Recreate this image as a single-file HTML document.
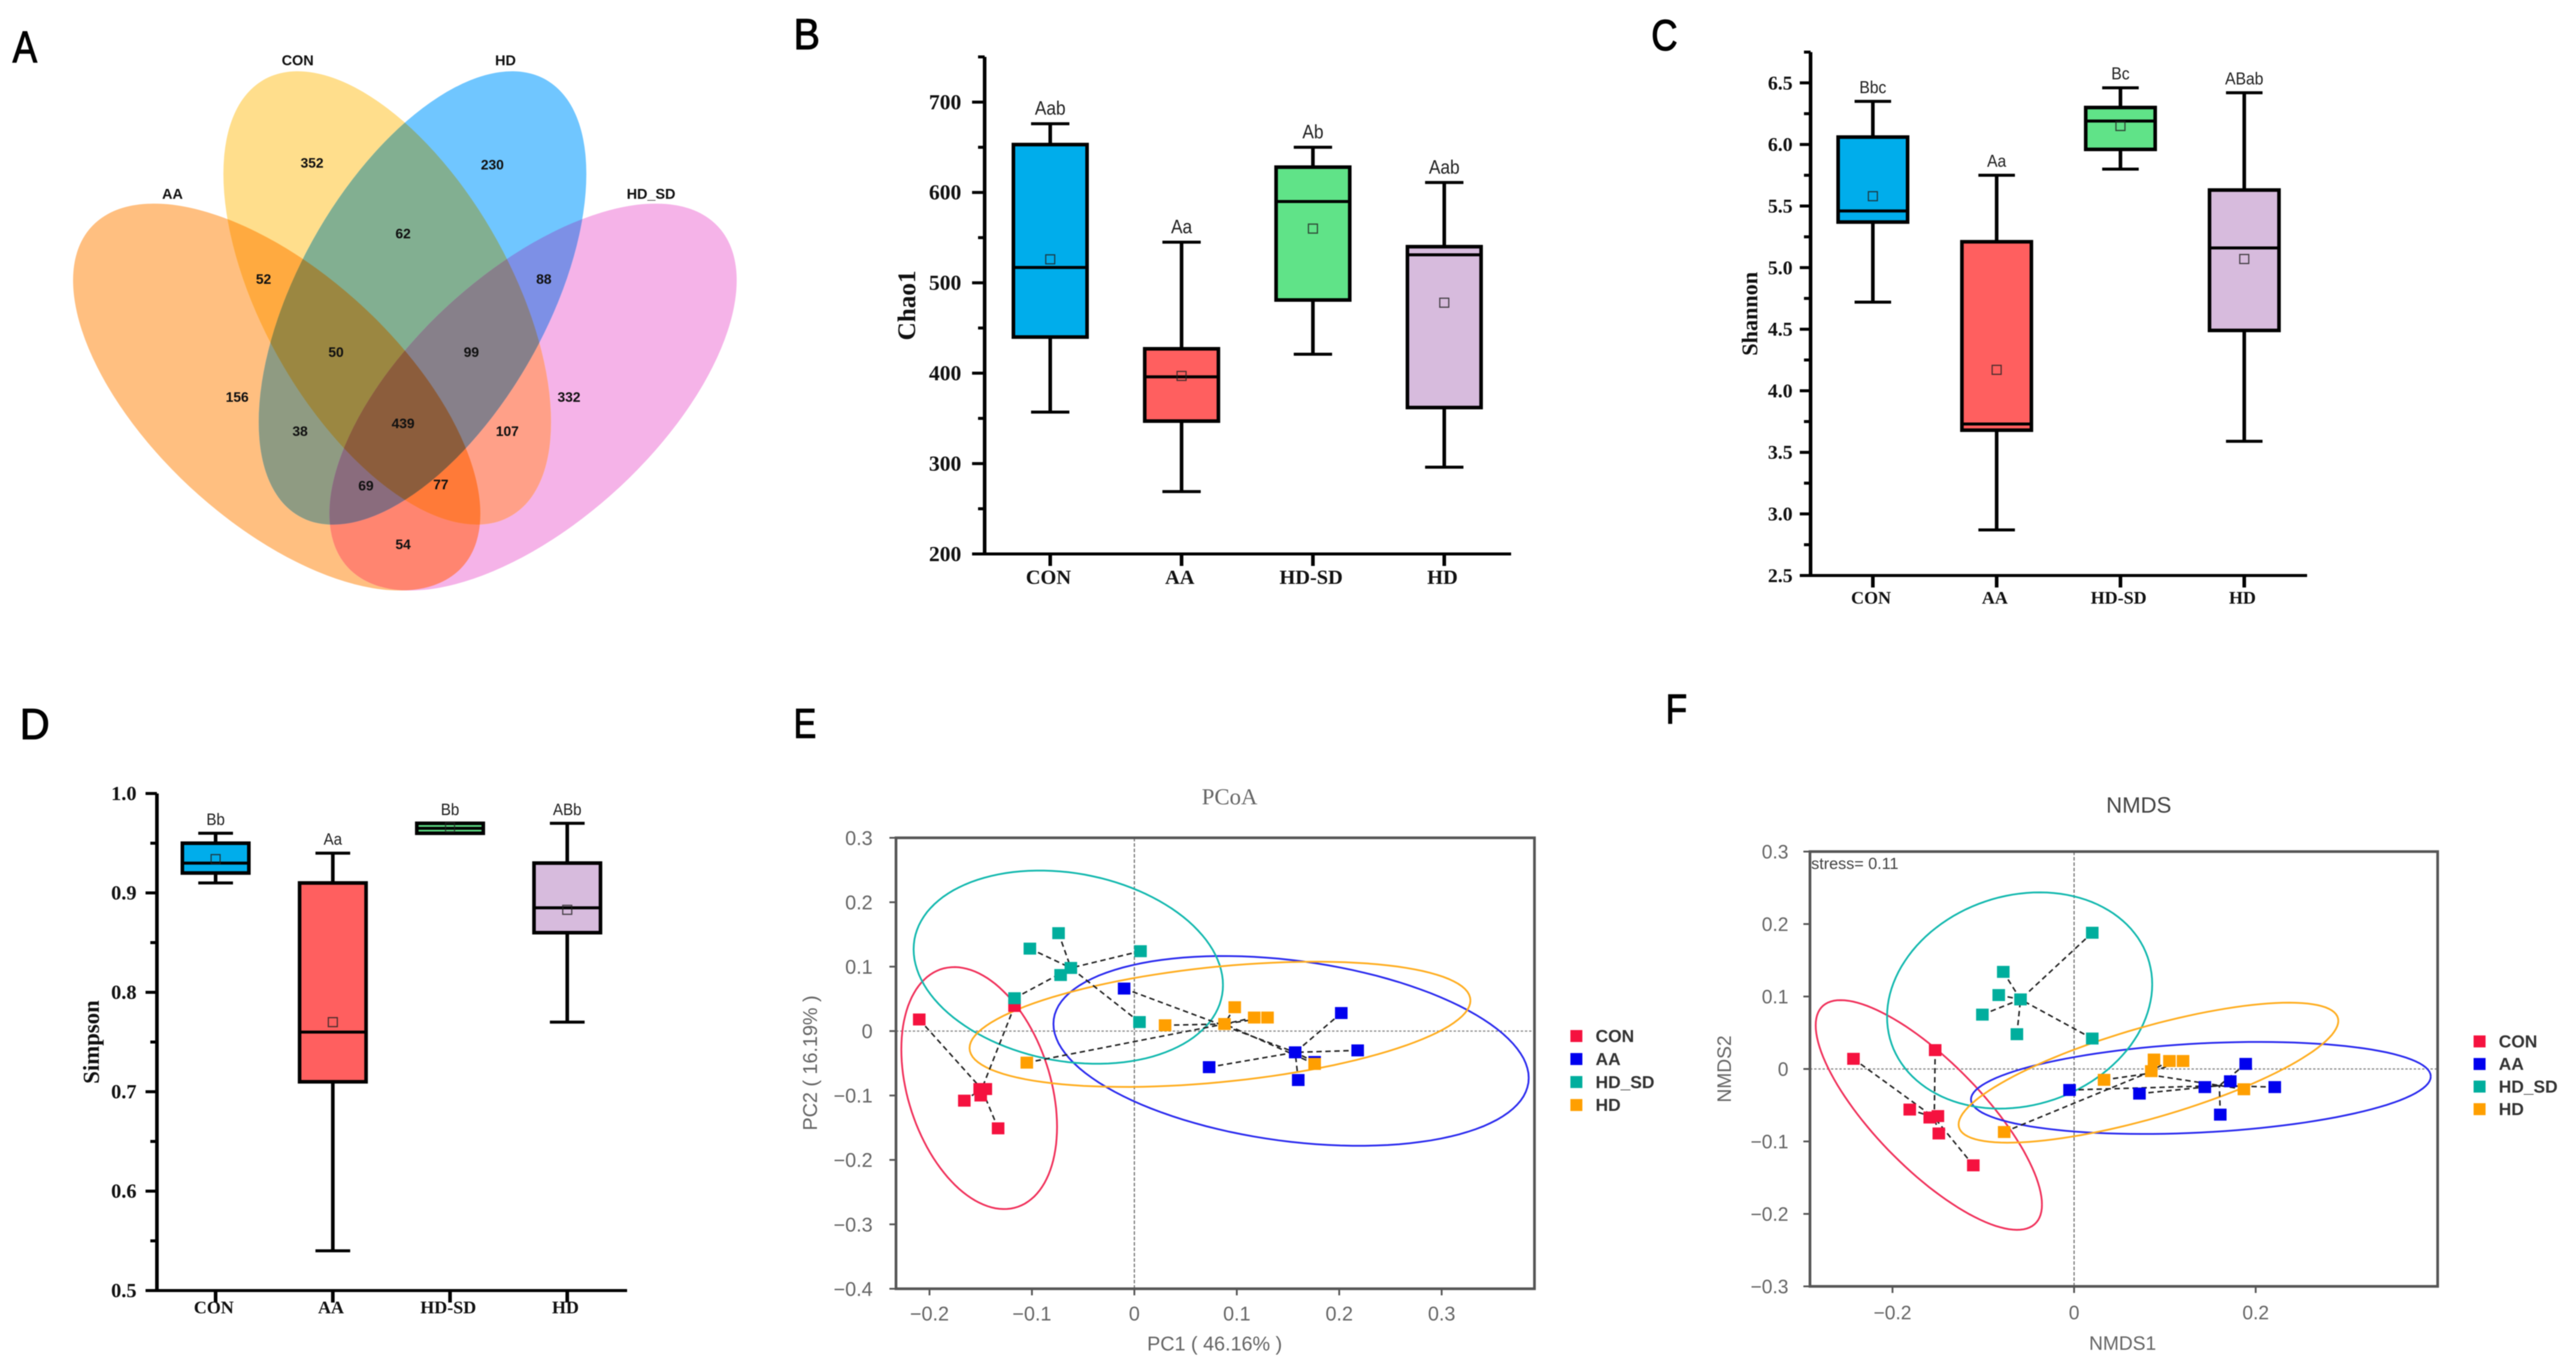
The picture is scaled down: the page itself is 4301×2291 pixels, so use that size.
<!DOCTYPE html>
<html lang="en">
<head>
<meta charset="utf-8">
<title>Microbial diversity figure: Venn, alpha diversity, PCoA and NMDS</title>
<style>
html,body{margin:0;padding:0;background:#fff;width:4301px;height:2291px;overflow:hidden}
svg{display:block;filter:blur(0.9px)}
text{font-family:"Liberation Sans",sans-serif}
.serif{font-family:"Liberation Serif",serif;font-weight:bold}
</style>
</head>
<body>
<svg id="fig" xmlns="http://www.w3.org/2000/svg" width="4301" height="2291" viewBox="0 0 4301 2291">
  <rect width="4301" height="2291" fill="#fff"/>

  <defs>
    <clipPath id="clip-aa"><circle r="1" transform="matrix(340 194.8 0 257.7 462 663)"/></clipPath>
    <clipPath id="clip-con"><circle r="1" transform="matrix(273.5 207 0 316.9 646.5 497.5)"/></clipPath>
    <clipPath id="clip-hd"><circle r="1" transform="matrix(273.5 -207 0 316.9 705.5 497.5)"/></clipPath>
    <clipPath id="clip-sd"><circle r="1" transform="matrix(340 -194.8 0 257.7 890 663)"/></clipPath>
  </defs>

  <g fill="#000" stroke="#000" stroke-width="1.6">
    <text x="21" y="104" font-size="74" textLength="41" lengthAdjust="spacingAndGlyphs">A</text>
    <text x="1325" y="82" font-size="72" textLength="44" lengthAdjust="spacingAndGlyphs">B</text>
    <text x="2757" y="84" font-size="72" textLength="44" lengthAdjust="spacingAndGlyphs">C</text>
    <text x="33" y="1234" font-size="72" textLength="50" lengthAdjust="spacingAndGlyphs">D</text>
    <text x="1325" y="1232" font-size="70" textLength="38" lengthAdjust="spacingAndGlyphs">E</text>
    <text x="2781" y="1208" font-size="70" textLength="36" lengthAdjust="spacingAndGlyphs">F</text>
  </g>

  <g>
    <g id="venn-regions"></g>
    <g font-size="24" font-weight="bold" text-anchor="middle" fill="#111">
      <text x="497" y="109">CON</text>
      <text x="844" y="109">HD</text>
      <text x="288" y="332">AA</text>
      <text x="1087" y="332">HD_SD</text>
    </g>
    <g font-size="23" font-weight="bold" text-anchor="middle" fill="#111">
      <text x="521" y="280">352</text>
      <text x="822" y="283">230</text>
      <text x="673" y="398">62</text>
      <text x="440" y="474">52</text>
      <text x="908" y="474">88</text>
      <text x="561" y="596">50</text>
      <text x="787" y="596">99</text>
      <text x="396" y="671">156</text>
      <text x="950" y="671">332</text>
      <text x="501" y="728">38</text>
      <text x="673" y="715">439</text>
      <text x="847" y="728">107</text>
      <text x="611" y="819">69</text>
      <text x="736" y="817">77</text>
      <text x="673" y="917">54</text>
    </g>
  </g>
</svg>

<script>
/* ---------- box-plot data ---------- */
const boxCategories = ['CON', 'AA', 'HD-SD', 'HD'];

const chaoWhiskerHigh = [676, 545, 650, 611];
const chaoQ3 = [653, 427, 628, 540];
const chaoMedian = [517, 396, 590, 531];
const chaoQ1 = [440, 347, 481, 362];
const chaoWhiskerLow = [357, 269, 421, 296];
const chaoMean = [526, 397, 560, 478];
const chaoLetters = ['Aab', 'Aa', 'Ab', 'Aab'];
const chaoTicks = [200, 300, 400, 500, 600, 700];
const chaoTickLabels = ['200', '300', '400', '500', '600', '700'];
const chaoMinorTicks = [250, 350, 450, 550, 650, 750];

const shannonWhiskerHigh = [6.35, 5.75, 6.46, 6.42];
const shannonQ3 = [6.06, 5.21, 6.30, 5.63];
const shannonMedian = [5.46, 3.73, 6.19, 5.16];
const shannonQ1 = [5.37, 3.68, 5.96, 4.49];
const shannonWhiskerLow = [4.72, 2.87, 5.80, 3.59];
const shannonMean = [5.58, 4.17, 6.15, 5.07];
const shannonLetters = ['Bbc', 'Aa', 'Bc', 'ABab'];
const shannonTicks = [2.5, 3, 3.5, 4, 4.5, 5, 5.5, 6, 6.5];
const shannonTickLabels = ['2.5', '3.0', '3.5', '4.0', '4.5', '5.0', '5.5', '6.0', '6.5'];
const shannonMinorTicks = [2.75, 3.25, 3.75, 4.25, 4.75, 5.25, 5.75, 6.25, 6.75];

const simpsonWhiskerHigh = [0.96, 0.94, 0.97, 0.97];
const simpsonQ3 = [0.95, 0.91, 0.97, 0.93];
const simpsonMedian = [0.93, 0.76, 0.965, 0.885];
const simpsonQ1 = [0.92, 0.71, 0.96, 0.86];
const simpsonWhiskerLow = [0.91, 0.54, 0.96, 0.77];
const simpsonMean = [0.934, 0.77, 0.966, 0.883];
const simpsonLetters = ['Bb', 'Aa', 'Bb', 'ABb'];
const simpsonTicks = [0.5, 0.6, 0.7, 0.8, 0.9, 1.0];
const simpsonTickLabels = ['0.5', '0.6', '0.7', '0.8', '0.9', '1.0'];
const simpsonMinorTicks = [0.55, 0.65, 0.75, 0.85, 0.95];

/* ---------- ordination data ---------- */
const scatterGroups = ['CON', 'AA', 'HD_SD', 'HD'];

const pcoaConX = [-0.210, -0.117, -0.166, -0.150, -0.151, -0.145, -0.133];
const pcoaConY = [0.018, 0.039, -0.108, -0.100, -0.090, -0.090, -0.151];
const pcoaAaX = [-0.010, 0.202, 0.218, 0.157, 0.073, 0.160, 0.176];
const pcoaAaY = [0.066, 0.028, -0.030, -0.033, -0.056, -0.076, -0.048];
const pcoaSdX = [-0.074, -0.102, -0.062, -0.072, 0.006, -0.117, 0.005];
const pcoaSdY = [0.152, 0.128, 0.098, 0.087, 0.124, 0.051, 0.014];
const pcoaHdX = [0.098, 0.117, 0.130, 0.088, 0.030, -0.105, 0.176];
const pcoaHdY = [0.037, 0.021, 0.021, 0.011, 0.009, -0.049, -0.051];
const pcoaCentroidX = [-0.149, 0.157, -0.062, 0.088];
const pcoaCentroidY = [-0.090, -0.033, 0.098, 0.011];
const pcoaEllipseCx = [-0.1515, 0.153, -0.0645, 0.0836];
const pcoaEllipseCy = [-0.0885, -0.0308, 0.0992, 0.0105];
const pcoaEllipseRx = [0.076, 0.232, 0.151, 0.2445];
const pcoaEllipseRy = [0.1878, 0.1473, 0.150, 0.0972];
const pcoaEllipseCorr = [-0.32, -0.285, -0.185, 0.38];
const pcoaXTicks = [-0.2, -0.1, 0, 0.1, 0.2, 0.3];
const pcoaXTickLabels = ['\u22120.2', '\u22120.1', '0', '0.1', '0.2', '0.3'];
const pcoaYTicks = [-0.4, -0.3, -0.2, -0.1, 0, 0.1, 0.2, 0.3];
const pcoaYTickLabels = ['\u22120.4', '\u22120.3', '\u22120.2', '\u22120.1', '0', '0.1', '0.2', '0.3'];

const nmdsConX = [-0.243, -0.153, -0.181, -0.159, -0.150, -0.149, -0.111];
const nmdsConY = [0.014, 0.026, -0.056, -0.067, -0.065, -0.089, -0.133];
const nmdsAaX = [-0.005, 0.072, 0.144, 0.172, 0.189, 0.221, 0.161];
const nmdsAaY = [-0.029, -0.034, -0.025, -0.017, 0.007, -0.025, -0.063];
const nmdsSdX = [0.020, -0.078, -0.083, -0.059, -0.101, -0.063, 0.020];
const nmdsSdY = [0.188, 0.134, 0.102, 0.096, 0.075, 0.048, 0.042];
const nmdsHdX = [0.088, 0.105, 0.120, 0.085, 0.033, -0.077, 0.187];
const nmdsHdY = [0.013, 0.011, 0.011, -0.003, -0.015, -0.087, -0.028];
const nmdsCentroidX = [-0.154, 0.160, -0.059, 0.078];
const nmdsCentroidY = [-0.067, -0.023, 0.096, -0.007];
const nmdsEllipseCx = [-0.160, 0.1396, -0.060, 0.0819];
const nmdsEllipseCy = [-0.0635, -0.0262, 0.0945, -0.0051];
const nmdsEllipseRx = [0.1246, 0.2532, 0.146, 0.2091];
const nmdsEllipseRy = [0.1585, 0.0635, 0.1492, 0.0966];
const nmdsEllipseCorr = [-0.78, 0.25, 0.15, 0.74];
const nmdsXTicks = [-0.2, 0, 0.2];
const nmdsXTickLabels = ['\u22120.2', '0', '0.2'];
const nmdsYTicks = [-0.3, -0.2, -0.1, 0, 0.1, 0.2, 0.3];
const nmdsYTickLabels = ['\u22120.3', '\u22120.2', '\u22120.1', '0', '0.1', '0.2', '0.3'];

/* ---------- helpers ---------- */
const NS = 'http://www.w3.org/2000/svg';
const root = document.getElementById('fig');
const boxFills = ['#00ADEB', '#FF5F5F', '#60E388', '#D7BBDD'];
const groupColors = ['#F5123F', '#0000EE', '#00AE9D', '#FF9F00'];
const ringColors = ['#F0305A', '#2A2AEE', '#12B8AE', '#FFAD1F'];

function svgEl(tag, attrs, parent) {
  const el = document.createElementNS(NS, tag);
  for (const k in attrs) el.setAttribute(k, attrs[k]);
  parent.appendChild(el);
  return el;
}
function svgText(str, attrs, parent) {
  const el = svgEl('text', attrs, parent);
  el.textContent = str;
  return el;
}
function slug(s) {
  return String(s).toLowerCase().replace(/[^a-z0-9]+/g, '-');
}
function linear(d0, d1, r0, r1) {
  return function (v) { return r0 + (v - d0) / (d1 - d0) * (r1 - r0); };
}

/* ---------- venn regions: each intersection painted in its own colour, smallest sets first ---------- */
const vennShapes = {
  aa: 'matrix(340 194.8 0 257.7 462 663)',
  con: 'matrix(273.5 207 0 316.9 646.5 497.5)',
  hd: 'matrix(273.5 -207 0 316.9 705.5 497.5)',
  sd: 'matrix(340 -194.8 0 257.7 890 663)'
};
const vennRegionSets = [
  ['aa'], ['sd'], ['con'], ['hd'],
  ['aa', 'con'], ['aa', 'hd'], ['aa', 'sd'], ['con', 'hd'], ['con', 'sd'], ['hd', 'sd'],
  ['aa', 'con', 'hd'], ['aa', 'con', 'sd'], ['aa', 'hd', 'sd'], ['con', 'hd', 'sd'],
  ['aa', 'con', 'hd', 'sd']
];
const vennRegionFills = [
  '#FFBF80', '#F5B3E8', '#FFDE8C', '#70C6FF',
  '#FFAA40', '#8F9B82', '#FF8570', '#82AF91', '#FFA088', '#7D90E6',
  '#9B8741', '#FF7A38', '#8A6C7D', '#87808A',
  '#8C5D3C'
];
vennRegionSets.forEach(function (sets, i) {
  let host = document.getElementById('venn-regions');
  sets.slice(1).forEach(function (s) {
    host = svgEl('g', {'clip-path': 'url(#clip-' + s + ')'}, host);
  });
  const region = svgEl('circle', {r: 1, transform: vennShapes[sets[0]], fill: vennRegionFills[i]}, host);
  
  
});

/* ---------- box plot ---------- */
function drawBoxPanel(c) {
  const g = svgEl('g', {}, root);
  
  
  const y = linear(c.yMin, c.yMax, c.bottom, c.top);
  const x = function (i) { return c.x0 + i * c.step; };

  const yAxis = svgEl('line', {x1: c.axisX, x2: c.axisX, y1: c.top, y2: c.bottom + 2, stroke: '#000', 'stroke-width': 6}, g);
  
  
  const xAxis = svgEl('line', {x1: c.xLeft, x2: c.xRight, y1: c.bottom, y2: c.bottom, stroke: '#000', 'stroke-width': 5}, g);
  
  

  c.ticks.forEach(function (t, i) {
    const tk = svgEl('line', {x1: c.xLeft, x2: c.axisX, y1: y(t), y2: y(t), stroke: '#000', 'stroke-width': 5}, g);
    
    
    const lb = svgText(c.tickLabels[i], {x: c.tickRight, y: y(t) + c.tickSize * 0.33, 'font-size': c.tickSize, 'text-anchor': 'end', fill: '#111', class: 'serif'}, g);
    
    
  });
  c.minorTicks.forEach(function (t) {
    const tk = svgEl('line', {x1: c.axisX - 11, x2: c.axisX, y1: y(t), y2: y(t), stroke: '#000', 'stroke-width': 5}, g);
    
    
  });

  const title = svgText(c.title, {x: 0, y: 0, transform: 'translate(' + c.titleX + ' ' + c.titleY + ') rotate(-90)', 'font-size': c.titleSize, 'text-anchor': 'middle', fill: '#111', class: 'serif'}, g);
  
  

  boxCategories.forEach(function (cat, i) {
    const cx = x(i);
    const key = c.name + '-' + slug(cat);
    const tk = svgEl('line', {x1: cx, x2: cx, y1: c.bottom, y2: c.bottom + 20, stroke: '#000', 'stroke-width': 6}, g);
    
    
    const lb = svgText(cat, {x: cx - 3, y: c.catY, 'font-size': c.catSize, 'text-anchor': 'middle', fill: '#111', class: 'serif'}, g);
    
    

    const whisker = svgEl('line', {x1: cx, x2: cx, y1: y(c.high[i]), y2: y(c.low[i]), stroke: '#000', 'stroke-width': 6}, g);
    
    
    const capHi = svgEl('line', {x1: cx - c.capW / 2, x2: cx + c.capW / 2, y1: y(c.high[i]), y2: y(c.high[i]), stroke: '#000', 'stroke-width': 5}, g);
    
    
    const capLo = svgEl('line', {x1: cx - c.capW / 2, x2: cx + c.capW / 2, y1: y(c.low[i]), y2: y(c.low[i]), stroke: '#000', 'stroke-width': 5}, g);
    
    
    const box = svgEl('rect', {x: cx - c.boxW / 2, y: y(c.q3[i]), width: c.boxW, height: y(c.q1[i]) - y(c.q3[i]), fill: boxFills[i], stroke: '#000', 'stroke-width': 6}, g);
    
    
    const med = svgEl('line', {x1: cx - c.boxW / 2, x2: cx + c.boxW / 2, y1: y(c.median[i]), y2: y(c.median[i]), stroke: '#000', 'stroke-width': 5}, g);
    
    
    const mean = svgEl('rect', {x: cx - 7.5, y: y(c.mean[i]) - 7.5, width: 15, height: 15, fill: 'none', stroke: '#222', 'stroke-width': 2, opacity: 0.8}, g);
    
    
    const sig = svgText(c.letters[i], {x: 0, y: 0, transform: 'translate(' + cx + ' ' + (y(c.high[i]) - c.letterGap) + ') scale(0.9 1)', 'font-size': c.letterSize, 'text-anchor': 'middle', fill: '#222'}, g);
    
    
  });
}

/* ---------- ordination plot ---------- */
function drawScatterPanel(c) {
  const g = svgEl('g', {}, root);
  
  
  const xs = linear(c.xDomain[0], c.xDomain[1], c.left, c.right);
  const ys = linear(c.yDomain[0], c.yDomain[1], c.bottom, c.top);

  const h0 = svgEl('line', {x1: c.left, x2: c.right, y1: ys(0), y2: ys(0), stroke: '#888', 'stroke-width': 2, 'stroke-dasharray': '4 3'}, g);
  
  
  const v0 = svgEl('line', {x1: xs(0), x2: xs(0), y1: c.top, y2: c.bottom, stroke: '#777', 'stroke-width': 2, 'stroke-dasharray': '6 3'}, g);
  
  

  const frame = svgEl('rect', {x: c.left, y: c.top, width: c.right - c.left, height: c.bottom - c.top, fill: 'none', stroke: '#555', 'stroke-width': 4.5}, g);
  
  

  c.xTicks.forEach(function (t, i) {
    const tk = svgEl('line', {x1: xs(t), x2: xs(t), y1: c.bottom, y2: c.bottom + 11, stroke: '#555', 'stroke-width': 3}, g);
    
    
    const lb = svgText(c.xTickLabels[i], {x: xs(t), y: c.xTickY, 'font-size': c.tickSize, 'text-anchor': 'middle', fill: '#666'}, g);
    
    
  });
  c.yTicks.forEach(function (t, i) {
    const tk = svgEl('line', {x1: c.left - 11, x2: c.left, y1: ys(t), y2: ys(t), stroke: '#555', 'stroke-width': 3}, g);
    
    
    const lb = svgText(c.yTickLabels[i], {x: c.yTickRight, y: ys(t) + c.tickSize * 0.36, 'font-size': c.tickSize, 'text-anchor': 'end', fill: '#666'}, g);
    
    
  });

  const tt = svgText(c.title, {x: c.titleX, y: c.titleY, 'font-size': c.titleSize, 'text-anchor': 'middle', fill: c.titleFill, style: 'font-family:' + c.titleFont}, g);
  
  
  const xt = svgText(c.xTitle, {x: c.xTitleX, y: c.xTitleY, 'font-size': c.axisTitleSize, 'text-anchor': 'middle', fill: '#666'}, g);
  
  
  const yt = svgText(c.yTitle, {x: 0, y: 0, transform: 'translate(' + c.yTitleX + ' ' + c.yTitleY + ') rotate(-90)', 'font-size': c.axisTitleSize, 'text-anchor': 'middle', fill: '#666'}, g);
  
  

  scatterGroups.forEach(function (grp, gi) {
    const key = c.name + '-' + slug(grp);
    const pts = [];
    for (let k = 0; k <= 120; k++) {
      const a = k / 120 * Math.PI * 2;
      const r = c.ellCorr[gi];
      const dx = c.ellCx[gi] + c.ellRx[gi] * Math.cos(a);
      const dy = c.ellCy[gi] + c.ellRy[gi] * (r * Math.cos(a) + Math.sqrt(1 - r * r) * Math.sin(a));
      pts.push(xs(dx).toFixed(1) + ',' + ys(dy).toFixed(1));
    }
    const ring = svgEl('polyline', {points: pts.join(' '), fill: 'none', stroke: ringColors[gi], 'stroke-width': 3}, g);
    
    
  });
  scatterGroups.forEach(function (grp, gi) {
    const key = c.name + '-' + slug(grp);
    c.seriesX[gi].forEach(function (vx, i) {
      const ln = svgEl('line', {x1: xs(vx), y1: ys(c.seriesY[gi][i]), x2: xs(c.centroidX[gi]), y2: ys(c.centroidY[gi]), stroke: '#222', 'stroke-width': 2.6, 'stroke-dasharray': '9 6'}, g);
      
      
    });
  });
  scatterGroups.forEach(function (grp, gi) {
    const key = c.name + '-' + slug(grp);
    c.seriesX[gi].forEach(function (vx, i) {
      const pt = svgEl('rect', {x: xs(vx) - 10.5, y: ys(c.seriesY[gi][i]) - 10, width: 21, height: 20, fill: groupColors[gi]}, g);
      
      
    });
    const sw = svgEl('rect', {x: c.legendX, y: c.legendY + gi * c.legendStep - 10, width: 20, height: 20, fill: groupColors[gi]}, g);
    
    
    const lt = svgText(grp, {x: c.legendX + 42, y: c.legendY + gi * c.legendStep + 10, 'font-size': 29, 'font-weight': 'bold', fill: '#333'}, g);
    
    
  });
  if (c.note) {
    const nt = svgText(c.note, {x: c.left + 2, y: c.top + 29, 'font-size': 27, fill: '#444'}, g);
    
    
  }
}

/* ---------- panels ---------- */
drawBoxPanel({name: 'chao1', title: 'Chao1', yMin: 200, yMax: 750, top: 95, bottom: 925, axisX: 1644, xLeft: 1623, xRight: 2523,
  x0: 1753.5, step: 219.3, boxW: 123, capW: 64, tickRight: 1605, tickSize: 36, catY: 975, catSize: 34,
  titleX: 1528, titleY: 510, titleSize: 42, letterGap: 15, letterSize: 32,
  high: chaoWhiskerHigh, q3: chaoQ3, median: chaoMedian, q1: chaoQ1, low: chaoWhiskerLow, mean: chaoMean, letters: chaoLetters,
  ticks: chaoTicks, tickLabels: chaoTickLabels, minorTicks: chaoMinorTicks});

drawBoxPanel({name: 'shannon', title: 'Shannon', yMin: 2.5, yMax: 6.75, top: 87, bottom: 961, axisX: 3023, xLeft: 3005, xRight: 3852,
  x0: 3127, step: 206.7, boxW: 116, capW: 61, tickRight: 2993, tickSize: 33, catY: 1008, catSize: 30,
  titleX: 2934, titleY: 524, titleSize: 37, letterGap: 14, letterSize: 29,
  high: shannonWhiskerHigh, q3: shannonQ3, median: shannonMedian, q1: shannonQ1, low: shannonWhiskerLow, mean: shannonMean, letters: shannonLetters,
  ticks: shannonTicks, tickLabels: shannonTickLabels, minorTicks: shannonMinorTicks});

drawBoxPanel({name: 'simpson', title: 'Simpson', yMin: 0.5, yMax: 1.0, top: 1325, bottom: 2155, axisX: 262, xLeft: 243, xRight: 1047,
  x0: 360, step: 195.7, boxW: 111, capW: 58, tickRight: 228, tickSize: 34, catY: 2193, catSize: 30,
  titleX: 165, titleY: 1740, titleSize: 38, letterGap: 14, letterSize: 28,
  high: simpsonWhiskerHigh, q3: simpsonQ3, median: simpsonMedian, q1: simpsonQ1, low: simpsonWhiskerLow, mean: simpsonMean, letters: simpsonLetters,
  ticks: simpsonTicks, tickLabels: simpsonTickLabels, minorTicks: simpsonMinorTicks});

drawScatterPanel({name: 'pcoa', left: 1496, right: 2562, top: 1399, bottom: 2152, xDomain: [-0.2327, 0.3906], yDomain: [-0.4, 0.3],
  seriesX: [pcoaConX, pcoaAaX, pcoaSdX, pcoaHdX], seriesY: [pcoaConY, pcoaAaY, pcoaSdY, pcoaHdY],
  centroidX: pcoaCentroidX, centroidY: pcoaCentroidY,
  ellCx: pcoaEllipseCx, ellCy: pcoaEllipseCy, ellRx: pcoaEllipseRx, ellRy: pcoaEllipseRy, ellCorr: pcoaEllipseCorr,
  xTicks: pcoaXTicks, xTickLabels: pcoaXTickLabels, yTicks: pcoaYTicks, yTickLabels: pcoaYTickLabels,
  tickSize: 33, xTickY: 2205, yTickRight: 1457,
  title: 'PCoA', titleX: 2053, titleY: 1343, titleSize: 38, titleFill: '#666', titleFont: '"Liberation Serif",serif',
  xTitle: 'PC1 ( 46.16% )', xTitleX: 2028, xTitleY: 2255, yTitle: 'PC2 ( 16.19% )', yTitleX: 1364, yTitleY: 1775, axisTitleSize: 33,
  legendX: 2622, legendY: 1730, legendStep: 38.4});

drawScatterPanel({name: 'nmds', left: 3022, right: 4070, top: 1422, bottom: 2148, xDomain: [-0.2909, 0.4004], yDomain: [-0.3, 0.3],
  seriesX: [nmdsConX, nmdsAaX, nmdsSdX, nmdsHdX], seriesY: [nmdsConY, nmdsAaY, nmdsSdY, nmdsHdY],
  centroidX: nmdsCentroidX, centroidY: nmdsCentroidY,
  ellCx: nmdsEllipseCx, ellCy: nmdsEllipseCy, ellRx: nmdsEllipseRx, ellRy: nmdsEllipseRy, ellCorr: nmdsEllipseCorr,
  xTicks: nmdsXTicks, xTickLabels: nmdsXTickLabels, yTicks: nmdsYTicks, yTickLabels: nmdsYTickLabels,
  tickSize: 32, xTickY: 2203, yTickRight: 2986,
  title: 'NMDS', titleX: 3571, titleY: 1357, titleSize: 37, titleFill: '#444', titleFont: '"Liberation Sans",sans-serif',
  xTitle: 'NMDS1', xTitleX: 3544, xTitleY: 2254, yTitle: 'NMDS2', yTitleX: 2890, yTitleY: 1785, axisTitleSize: 32,
  legendX: 4130, legendY: 1739, legendStep: 37.7, note: 'stress= 0.11'});
</script>
</body>
</html>
